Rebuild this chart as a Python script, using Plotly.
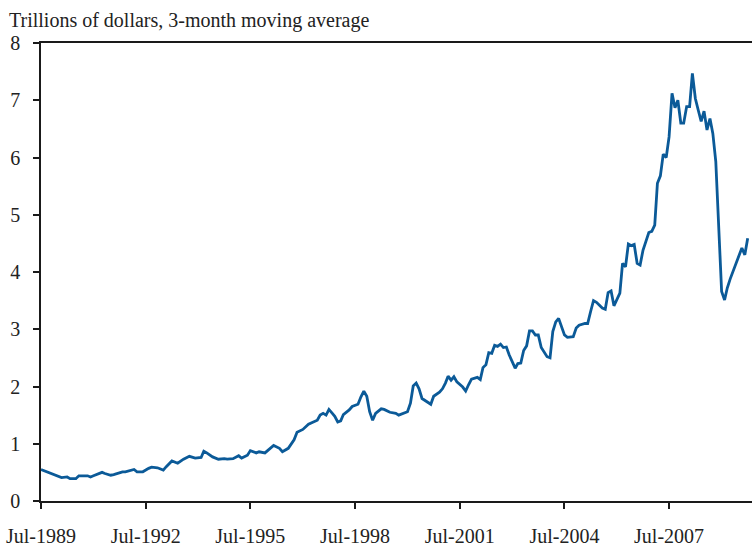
import plotly.graph_objects as go

# Monthly readings (3-month moving average, trillions of dollars)
dates = [
    "1989-07", "1989-09", "1989-11",
    "1990-02", "1990-04", "1990-05", "1990-07", "1990-08", "1990-11", "1990-12",
    "1991-01", "1991-04", "1991-05", "1991-07", "1991-08", "1991-11", "1991-12",
    "1992-02", "1992-03", "1992-04", "1992-06", "1992-08", "1992-09", "1992-11",
    "1993-01", "1993-02", "1993-04", "1993-06", "1993-08", "1993-10", "1993-11", "1993-12",
    "1994-02", "1994-03", "1994-04", "1994-06", "1994-08", "1994-10", "1994-11",
    "1995-01", "1995-03", "1995-04", "1995-06", "1995-07", "1995-09", "1995-10", "1995-12",
    "1996-01", "1996-03", "1996-05", "1996-06", "1996-08", "1996-10", "1996-11",
    "1997-01", "1997-03", "1997-04", "1997-06", "1997-07", "1997-08", "1997-09", "1997-10", "1997-11", "1997-12",
    "1998-01", "1998-02", "1998-03", "1998-05", "1998-06", "1998-08", "1998-09", "1998-10", "1998-11", "1998-12",
    "1999-01", "1999-02", "1999-04", "1999-05", "1999-07", "1999-09", "1999-10", "1999-12",
    "2000-01", "2000-02", "2000-03", "2000-04", "2000-05", "2000-06", "2000-08", "2000-09", "2000-10", "2000-12",
    "2001-01", "2001-02", "2001-03", "2001-04", "2001-05", "2001-06", "2001-08", "2001-09", "2001-10", "2001-11",
    "2002-01", "2002-02", "2002-03", "2002-04", "2002-05", "2002-06", "2002-07", "2002-08", "2002-09", "2002-10", "2002-11", "2002-12",
    "2003-02", "2003-03", "2003-04", "2003-05", "2003-06", "2003-07", "2003-08", "2003-09", "2003-10", "2003-11",
    "2004-01", "2004-02", "2004-03", "2004-04", "2004-05", "2004-06", "2004-07", "2004-08", "2004-10", "2004-11", "2004-12",
    "2005-02", "2005-03", "2005-04", "2005-05", "2005-06", "2005-08", "2005-09", "2005-10", "2005-11", "2005-12",
    "2006-02", "2006-03", "2006-04", "2006-05", "2006-06", "2006-07", "2006-08", "2006-09", "2006-10", "2006-12",
    "2007-01", "2007-02", "2007-03", "2007-04", "2007-05", "2007-06", "2007-07", "2007-08", "2007-09", "2007-10", "2007-11", "2007-12",
    "2008-01", "2008-02", "2008-03", "2008-04", "2008-05", "2008-06", "2008-07", "2008-08", "2008-09", "2008-10", "2008-11", "2008-12",
    "2009-01", "2009-02", "2009-03", "2009-04", "2009-06", "2009-08", "2009-09", "2009-10",
]
values = [
    0.55, 0.51, 0.47,
    0.41, 0.42, 0.39, 0.39, 0.44, 0.44, 0.42,
    0.44, 0.50, 0.48, 0.45, 0.46, 0.51, 0.51,
    0.54, 0.55, 0.51, 0.51, 0.57, 0.59, 0.58,
    0.54, 0.60, 0.70, 0.66, 0.73, 0.78, 0.77, 0.75,
    0.76, 0.87, 0.84, 0.77, 0.73, 0.74, 0.73,
    0.74, 0.79, 0.75, 0.80, 0.88, 0.84, 0.86, 0.84,
    0.89, 0.97, 0.92, 0.86, 0.92, 1.07, 1.20,
    1.25, 1.34, 1.36, 1.41, 1.50, 1.53, 1.50, 1.60, 1.54, 1.48,
    1.38, 1.40, 1.51, 1.59, 1.65, 1.69, 1.82, 1.92, 1.83, 1.56,
    1.41, 1.53, 1.61, 1.60, 1.55, 1.53, 1.50, 1.54,
    1.56, 1.71, 2.01, 2.06, 1.96, 1.79, 1.72, 1.69, 1.83, 1.90,
    1.96, 2.06, 2.18, 2.11, 2.17, 2.08, 1.99, 1.92, 2.03, 2.13,
    2.16, 2.12, 2.33, 2.38, 2.59, 2.58, 2.72, 2.70, 2.74, 2.68, 2.69, 2.55,
    2.32, 2.40, 2.41, 2.63, 2.71, 2.97, 2.97, 2.90, 2.90, 2.68,
    2.52, 2.50, 2.96, 3.13, 3.19, 3.02, 2.90, 2.86, 2.87, 3.02, 3.07,
    3.10, 3.10, 3.31, 3.50, 3.47, 3.37, 3.35, 3.64, 3.67, 3.41,
    3.63, 4.15, 4.09, 4.49, 4.46, 4.48, 4.15, 4.12, 4.38, 4.69,
    4.71, 4.82, 5.55, 5.68, 6.06, 6.00, 6.36, 7.12, 6.87, 7.00, 6.60, 6.60,
    6.89, 6.89, 7.47, 7.03, 6.83, 6.63, 6.81, 6.48, 6.68, 6.42, 5.93, 4.94,
    3.66, 3.51, 3.72, 3.88, 4.17, 4.42, 4.30, 4.59,
]

tick_dates = ["1989-07-01", "1992-07-01", "1995-07-01", "1998-07-01",
              "2001-07-01", "2004-07-01", "2007-07-01"]
tick_labels = ["Jul-1989", "Jul-1992", "Jul-1995", "Jul-1998",
               "Jul-2001", "Jul-2004", "Jul-2007"]
y_ticks = [0, 1, 2, 3, 4, 5, 6, 7, 8]

FONT = "Liberation Serif"
AXIS = "#1a1a1a"

fig = go.Figure()
fig.add_trace(go.Scatter(
    x=[d + "-01" for d in dates], y=values, mode="lines",
    line=dict(color="#0b5a98", width=2.8),
    hoverinfo="skip", showlegend=False, cliponaxis=False,
))

fig.update_layout(
    width=752, height=546,
    margin=dict(l=41, r=0, t=43, b=45, autoexpand=False),
    plot_bgcolor="white", paper_bgcolor="white",
    font=dict(family=FONT, size=20, color="#222222"),
    xaxis=dict(
        range=["1989-07-01", "2009-11-15"], automargin=False,
        tickmode="array", tickvals=tick_dates, ticktext=tick_labels,
        ticks="outside", ticklen=6, tickwidth=1.5, tickcolor=AXIS,
        showline=True, linecolor=AXIS, linewidth=1.5, mirror=True,
        showgrid=False, zeroline=False, ticklabelstandoff=10,
        ticklabeloverflow="allow",
    ),
    yaxis=dict(
        range=[0, 8], tickmode="array", tickvals=y_ticks, automargin=False,
        ticks="outside", ticklen=6, tickwidth=1.5, tickcolor=AXIS,
        showline=True, linecolor=AXIS, linewidth=1.5,
        showgrid=False, zeroline=False, ticklabelstandoff=9,
        ticklabeloverflow="allow",
    ),
    annotations=[dict(
        text="Trillions of dollars, 3-month moving average",
        xref="paper", yref="paper", x=0, y=1, xshift=-34, yshift=9,
        xanchor="left", yanchor="bottom", showarrow=False,
        font=dict(family=FONT, size=20, color="#222222"),
    )],
)

fig.write_html(
    "out.html",
    config={"displayModeBar": False},
    post_script="document.body.style.margin='0';document.body.style.overflow='hidden';",
)
